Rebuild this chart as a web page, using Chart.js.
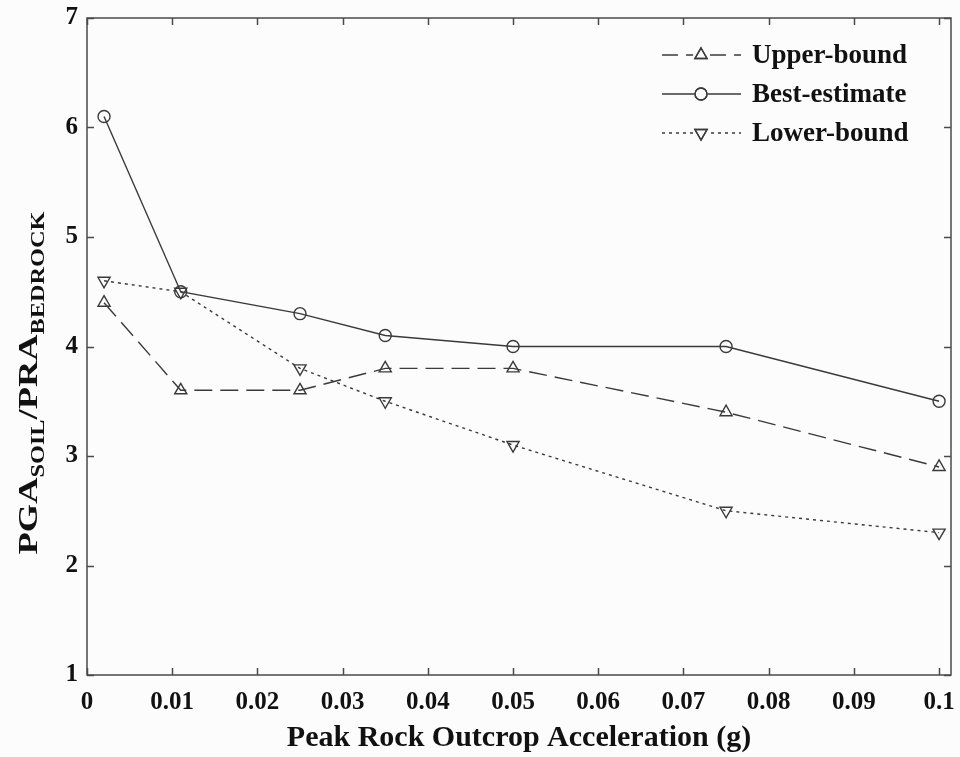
<!DOCTYPE html>
<html>
<head>
<meta charset="utf-8">
<script src="https://cdn.jsdelivr.net/npm/chart.js@4.4.7/dist/chart.umd.min.js"></script>
<style>
  html, body { margin: 0; padding: 0; background: #fcfcfc; }
  #wrap { width: 960px; height: 757px; position: relative; }
</style>
</head>
<body>
<div id="wrap"><canvas id="chart"></canvas></div>
<script>
// Peak rock outcrop acceleration (g)
const accel = [0.002, 0.011, 0.025, 0.035, 0.05, 0.075, 0.1];
// PGA soil / PRA bedrock ratios
const upperBound = [4.4, 3.6, 3.6, 3.8, 3.8, 3.4, 2.9];
const bestEstimate = [6.1, 4.5, 4.3, 4.1, 4.0, 4.0, 3.5];
const lowerBound = [4.6, 4.5, 3.8, 3.5, 3.1, 2.5, 2.3];

const xTicks = [0, 0.01, 0.02, 0.03, 0.04, 0.05, 0.06, 0.07, 0.08, 0.09, 0.1];
const yTicks = [1, 2, 3, 4, 5, 6, 7];

const INK = '#3a3a3a';
const FRAME = '#4a4a4a';
const SERIF = '"Liberation Serif", "Times New Roman", serif';

const series = [
  { label: 'Upper-bound', data: upperBound, dash: [18, 8], style: 'triangle', rot: 0, r: 7 },
  { label: 'Best-estimate', data: bestEstimate, dash: [], style: 'circle', rot: 0, r: 6 },
  { label: 'Lower-bound', data: lowerBound, dash: [3, 4], style: 'triangle', rot: 180, r: 7 },
];

const datasets = series.map(s => ({
  label: s.label,
  data: accel.map((x, i) => ({ x, y: s.data[i] })),
  borderColor: INK,
  borderWidth: 1.4,
  borderDash: s.dash,
  pointStyle: s.style,
  pointRotation: s.rot,
  pointRadius: s.r,
  pointBorderWidth: 1.4,
  pointBorderColor: INK,
  pointBackgroundColor: 'rgba(255,255,255,0)',
  tension: 0,
  fill: false,
}));

// frame around the plot with inward ticks on all four sides
const framePlugin = {
  id: 'frame',
  afterDatasetsDraw(chart) {
    const { ctx, chartArea: a, scales } = chart;
    const len = 7;
    ctx.save();
    ctx.strokeStyle = FRAME;
    ctx.lineWidth = 1.5;
    ctx.strokeRect(a.left, a.top, a.right - a.left, a.bottom - a.top);
    ctx.beginPath();
    xTicks.forEach(v => {
      const px = Math.round(scales.x.getPixelForValue(v)) + 0.5;
      ctx.moveTo(px, a.bottom); ctx.lineTo(px, a.bottom - len);
      ctx.moveTo(px, a.top); ctx.lineTo(px, a.top + len);
    });
    yTicks.forEach(v => {
      const py = Math.round(scales.y.getPixelForValue(v)) + 0.5;
      ctx.moveTo(a.left, py); ctx.lineTo(a.left + len, py);
      ctx.moveTo(a.right, py); ctx.lineTo(a.right - len, py);
    });
    ctx.stroke();
    ctx.restore();
  }
};

// legend box in the upper right: line sample, marker, label
const legendPlugin = {
  id: 'sampleLegend',
  afterDraw(chart) {
    const { ctx } = chart;
    const rows = [55, 94, 133];
    ctx.save();
    series.forEach((s, i) => {
      const y = rows[i];
      ctx.strokeStyle = INK;
      ctx.lineWidth = 1.4;
      ctx.setLineDash(s.dash.length ? (s.dash[0] > 5 ? [16, 8] : [3, 4]) : []);
      ctx.beginPath();
      ctx.moveTo(662, y);
      ctx.lineTo(741, y);
      ctx.stroke();
      ctx.setLineDash([]);
      ctx.fillStyle = '#fcfcfc';
      ctx.beginPath();
      ctx.arc(701, y, s.r + 1, 0, Math.PI * 2);
      ctx.fill();
      Chart.helpers.drawPoint(ctx, { pointStyle: s.style, rotation: s.rot, radius: s.r, borderWidth: 1.4 }, 701, y);
      ctx.stroke();
      ctx.fillStyle = '#111';
      ctx.font = 'bold 27px ' + SERIF;
      ctx.textBaseline = 'middle';
      ctx.textAlign = 'left';
      ctx.fillText(s.label, 752, y + 1);
    });
    ctx.restore();
  }
};

// rotated y-axis title with subscripts
const yTitlePlugin = {
  id: 'yTitle',
  afterDraw(chart) {
    const { ctx } = chart;
    const parts = [
      { t: 'PGA', sub: false }, { t: 'SOIL', sub: true },
      { t: '/PRA', sub: false }, { t: 'BEDROCK', sub: true },
    ];
    const big = 'bold 27px ' + SERIF;
    const small = 'bold 18px ' + SERIF;
    const stretch = 1.35;
    ctx.save();
    ctx.translate(37, 383);
    ctx.rotate(-Math.PI / 2);
    ctx.scale(stretch, 1);
    let total = 0;
    parts.forEach(p => { ctx.font = p.sub ? small : big; p.w = ctx.measureText(p.t).width; total += p.w; });
    let x = -total / 2;
    ctx.fillStyle = '#111';
    ctx.textBaseline = 'alphabetic';
    ctx.textAlign = 'left';
    parts.forEach(p => {
      ctx.font = p.sub ? small : big;
      ctx.fillText(p.t, x, p.sub ? 7 : 0);
      x += p.w;
    });
    ctx.restore();
  }
};

new Chart(document.getElementById('chart'), {
  type: 'line',
  data: { datasets },
  plugins: [framePlugin, legendPlugin, yTitlePlugin],
  options: {
    responsive: true,
    maintainAspectRatio: false,
    animation: false,
    layout: { padding: { top: 18, right: 9, left: 0, bottom: 0 } },
    plugins: { legend: { display: false }, tooltip: { enabled: false } },
    scales: {
      x: {
        type: 'linear',
        min: 0,
        max: 0.1014,
        afterBuildTicks(scale) { scale.ticks = xTicks.map(v => ({ value: v })); },
        afterFit(scale) { scale.height = 82; scale.paddingLeft = 0; scale.paddingRight = 0; },
        grid: { display: false, drawTicks: false },
        border: { display: false },
        ticks: {
          color: '#111',
          padding: 13,
          font: { family: SERIF, size: 25, weight: 'bold' },
          maxRotation: 0,
          callback: v => String(Number(v.toFixed(2))),
        },
        title: {
          display: true,
          text: 'Peak Rock Outcrop Acceleration (g)',
          color: '#111',
          font: { family: SERIF, size: 30, weight: 'bold' },
          padding: { top: 0, bottom: 1 },
        },
      },
      y: {
        min: 1,
        max: 7,
        afterBuildTicks(scale) { scale.ticks = yTicks.map(v => ({ value: v })); },
        afterFit(scale) { scale.width = 87; scale.paddingTop = 0; scale.paddingBottom = 0; },
        grid: { display: false, drawTicks: false },
        border: { display: false },
        ticks: {
          color: '#111',
          padding: 9,
          font: { family: SERIF, size: 25, weight: 'bold' },
        },
      },
    },
  },
});
</script>
</body>
</html>
